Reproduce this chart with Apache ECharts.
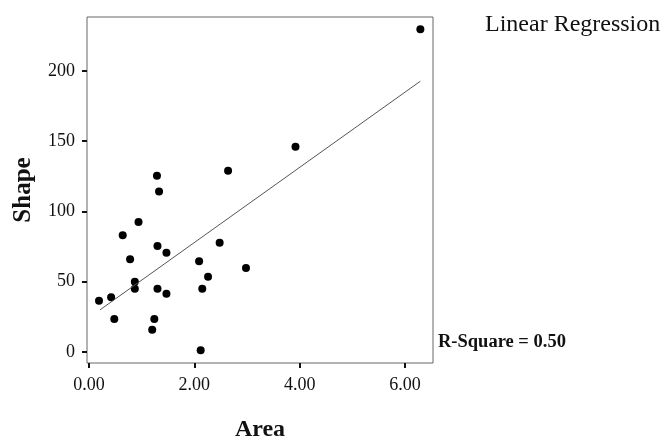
<!DOCTYPE html>
<html>
<head>
<meta charset="utf-8">
<script src="https://cdn.jsdelivr.net/npm/echarts@6/dist/echarts.min.js"></script>
<style>html,body{margin:0;padding:0;background:#fff;}#c{width:667px;height:443px;}</style>
</head>
<body>
<div id="c"></div>
<script>
var areaValues  = [0.19, 0.42, 0.48, 0.64, 0.78, 0.87, 0.87, 0.94, 1.20, 1.24, 1.29, 1.33, 1.30, 1.30, 1.47, 1.47, 2.09, 2.12, 2.15, 2.26, 2.48, 2.64, 2.98, 3.92, 6.29];
var shapeValues = [36.5, 39, 23.5, 83, 66, 50, 45, 92.5, 15.9, 23.5, 125.4, 114.2, 75.4, 45, 70.6, 41.5, 64.5, 1.2, 45, 53.6, 77.7, 129, 59.7, 146, 229.7];
var fitArea  = [0.21, 6.29];
var fitShape = [30, 192.7];
var xTicks = [0, 2, 4, 6];
var yTicks = [0, 50, 100, 150, 200];
var titleText = 'Linear Regression';
var rsqText = 'R-Square = 0.50';

var serif = '"Liberation Serif", "DejaVu Serif", serif';
var points = areaValues.map(function (a, i) { return [a, shapeValues[i]]; });
var fitLine = fitArea.map(function (a, i) { return [a, fitShape[i]]; });

var chart = echarts.init(document.getElementById('c'), null, {renderer: 'canvas'});
chart.setOption({
  animation: false,
  backgroundColor: '#fff',
  title: {
    text: titleText, left: 480, top: 8,
    textStyle: {fontFamily: serif, fontWeight: 'normal', fontSize: 24, color: '#111'}
  },
  grid: {left: 87, top: 17, width: 346, height: 346, show: true, borderColor: '#666', borderWidth: 1,
    backgroundColor: 'transparent', containLabel: false, outerBoundsMode: 'none'},
  xAxis: {
    type: 'value', min: -0.038, max: 6.53,
    name: 'Area', nameLocation: 'middle', nameGap: 55,
    nameTextStyle: {fontFamily: serif, fontWeight: 'bold', fontSize: 24, color: '#111'},
    axisLine: {show: false, onZero: false},
    splitLine: {show: false},
    axisTick: {show: true, customValues: xTicks, length: 5, lineStyle: {color: '#111', width: 2}},
    axisLabel: {customValues: xTicks, fontFamily: serif, fontSize: 18, color: '#111', margin: 13,
      formatter: function (v) { return v.toFixed(2); }}
  },
  yAxis: {
    type: 'value', min: -7.83, max: 238.4,
    name: 'Shape', nameLocation: 'middle', nameGap: 51, nameRotate: 90,
    nameTextStyle: {fontFamily: serif, fontWeight: 'bold', fontSize: 25, color: '#111'},
    axisLine: {show: false, onZero: false},
    splitLine: {show: false},
    axisTick: {show: true, customValues: yTicks, length: 5, lineStyle: {color: '#111', width: 2}},
    axisLabel: {customValues: yTicks, fontFamily: serif, fontSize: 18, color: '#111', margin: 12}
  },
  graphic: [{
    type: 'text', left: 438, top: 333,
    style: {text: rsqText, fontFamily: serif, fontWeight: 'bold', fontSize: 18.5, fill: '#111'}
  }],
  series: [{
    type: 'line', data: fitLine, symbol: 'none', silent: true,
    lineStyle: {color: '#555', width: 1}
  }, {
    type: 'scatter', data: points, symbol: 'circle', symbolSize: 8,
    itemStyle: {color: '#000', opacity: 1}
  }]
});
</script>
</body>
</html>
